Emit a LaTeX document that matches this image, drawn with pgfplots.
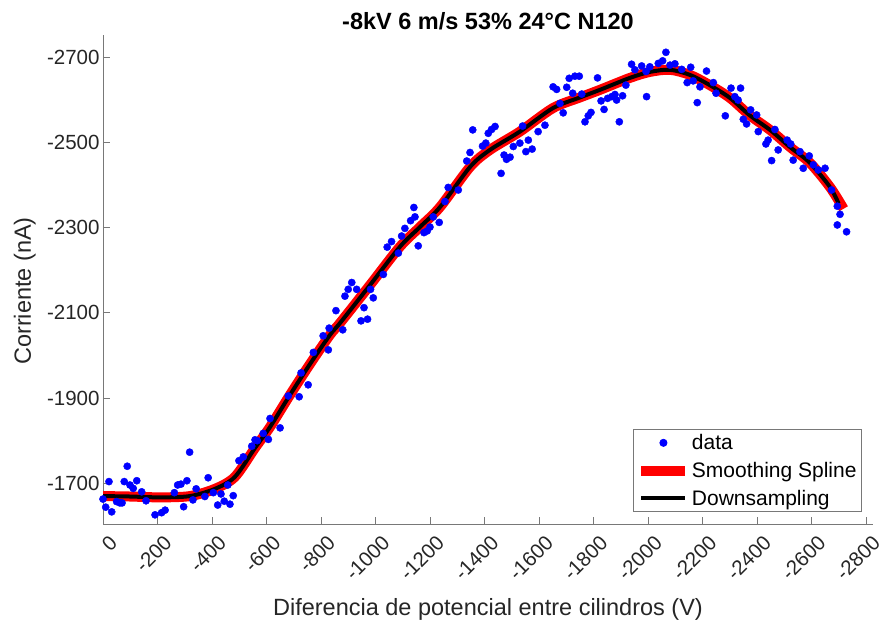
\documentclass[border=0pt]{standalone}
\usepackage{pgfplots}
\pgfplotsset{compat=1.18}
\usepackage{fontspec}
\setmainfont{Liberation Sans}
\definecolor{axtext}{RGB}{38,38,38}
\definecolor{axline}{RGB}{120,120,120}
\pgfplotsset{
  lineleg/.style={legend image code/.code={\draw[##1] (0pt,0pt) -- (44pt,0pt);}},
  markleg/.style={legend image code/.code={\draw[##1] plot coordinates {(22pt,0pt)};}},
}

\pgfplotstableread{
x y
0 -1663
-10 -1644
-22 -1704
-32 -1633
-50 -1657
-62 -1654
-70 -1654
-78 -1704
-89 -1740
-99 -1696
-111 -1688
-124 -1706
-142 -1680
-158 -1659
-191 -1626
-215 -1631
-228 -1637
-262 -1678
-274 -1696
-286 -1698
-296 -1645
-308 -1706
-318 -1773
-330 -1661
-342 -1687
-374 -1669
-386 -1713
-405 -1678
-421 -1649
-433 -1675
-445 -1658
-458 -1696
-466 -1651
-478 -1671
-499 -1753
-515 -1762
-546 -1787
-558 -1802
-566 -1800
-588 -1817
-607 -1803
-613 -1852
-650 -1830
-680 -1905
-720 -1903
-727 -1959
-753 -1931
-772 -2007
-808 -2046
-827 -2013
-830 -2064
-855 -2105
-880 -2060
-888 -2139
-900 -2155
-913 -2171
-931 -2155
-947 -2081
-958 -2112
-971 -2085
-982 -2155
-992 -2135
-1029 -2190
-1043 -2254
-1059 -2267
-1084 -2240
-1096 -2280
-1108 -2298
-1129 -2316
-1141 -2347
-1145 -2325
-1157 -2257
-1178 -2288
-1190 -2292
-1200 -2301
-1212 -2325
-1234 -2312
-1255 -2361
-1267 -2394
-1304 -2388
-1335 -2456
-1347 -2476
-1357 -2529
-1393 -2491
-1405 -2498
-1414 -2521
-1426 -2530
-1439 -2537
-1461 -2427
-1472 -2470
-1481 -2460
-1494 -2465
-1506 -2490
-1530 -2498
-1540 -2538
-1552 -2478
-1561 -2505
-1575 -2484
-1597 -2525
-1622 -2540
-1652 -2630
-1665 -2624
-1677 -2591
-1689 -2569
-1702 -2629
-1711 -2650
-1724 -2615
-1732 -2655
-1748 -2655
-1757 -2613
-1769 -2548
-1781 -2562
-1791 -2570
-1815 -2651
-1828 -2597
-1839 -2577
-1852 -2603
-1867 -2607
-1879 -2612
-1885 -2599
-1907 -2609
-1895 -2548
-1919 -2634
-1940 -2683
-1952 -2670
-1977 -2679
-1993 -2666
-1995 -2607
-2007 -2677
-2038 -2685
-2054 -2691
-2066 -2711
-2081 -2681
-2099 -2684
-2124 -2671
-2157 -2676
-2144 -2640
-2166 -2644
-2181 -2593
-2191 -2630
-2215 -2667
-2240 -2640
-2250 -2615
-2284 -2562
-2305 -2627
-2340 -2627
-2319 -2607
-2331 -2599
-2350 -2554
-2362 -2543
-2377 -2576
-2399 -2564
-2405 -2525
-2433 -2496
-2441 -2505
-2454 -2457
-2466 -2530
-2478 -2482
-2511 -2505
-2524 -2496
-2533 -2458
-2558 -2478
-2570 -2439
-2592 -2468
-2607 -2447
-2625 -2435
-2650 -2439
-2674 -2388
-2695 -2350
-2705 -2331
-2695 -2306
-2729 -2290
}\rawdata

\pgfplotstableread{
x y
0 -1670
-99 -1669
-209 -1667
-319 -1670
-411 -1687
-484 -1715
-558 -1783
-613 -1832
-686 -1907
-760 -1980
-833 -2048
-870 -2076
-980 -2165
-1090 -2255
-1163 -2301
-1237 -2348
-1347 -2442
-1420 -2482
-1530 -2525
-1651 -2580
-1750 -2605
-1824 -2623
-1934 -2651
-2007 -2665
-2081 -2670
-2154 -2658
-2227 -2634
-2301 -2604
-2374 -2563
-2450 -2528
-2521 -2489
-2594 -2452
-2668 -2395
-2718 -2344
}\splinedata

\pgfplotstableread{
x y
0 -1670
-99 -1669
-209 -1667
-319 -1670
-411 -1687
-484 -1715
-558 -1783
-613 -1832
-686 -1907
-760 -1980
-833 -2048
-870 -2076
-980 -2165
-1090 -2255
-1163 -2301
-1237 -2348
-1347 -2442
-1420 -2482
-1530 -2525
-1651 -2580
-1750 -2605
-1824 -2623
-1934 -2651
-2007 -2665
-2081 -2670
-2154 -2658
-2227 -2634
-2301 -2604
-2374 -2563
-2450 -2528
-2521 -2489
-2594 -2452
-2668 -2395
-2700 -2356
}\downdata

\begin{document}
\begin{tikzpicture}[x=1pt,y=1pt]
\useasboundingbox (-103,-100) rectangle (778,524);
\begin{axis}[
  at={(0pt,0pt)}, anchor=south west,
  scale only axis, width=770pt, height=489pt,
  x dir=reverse, y dir=reverse,
  xmin=-2826, xmax=0, ymin=-2751.6, ymax=-1604.5,
  axis x line*=bottom, axis y line*=left,
  axis line style={axline, line width=0.8pt, -},
  tick align=inside, major tick length=7pt,
  tick style={axline, line width=0.8pt},
  xtick={0,-200,...,-2800},
  ytick={-2700,-2500,...,-1700},
  scaled ticks=false,
  /pgf/number format/.cd, 1000 sep={}, assume math mode=true, /pgfplots/.cd,
  ticklabel style={font=\fontsize{20.5}{24}\selectfont, text=axtext},
  xticklabel style={xshift=13pt, yshift=-13pt, rotate=45, anchor=east},
  clip=false,
  legend style={at={(axis description cs:0.985,0.0245)}, anchor=south east,
    draw=axline, line width=0.8pt, fill=white,
    font=\fontsize{21}{24}\selectfont,
    inner xsep=3pt, inner ysep=4pt, row sep=9pt,
    nodes={inner xsep=1.5pt, inner ysep=1pt},
    cells={anchor=west}},
]
\addplot[only marks, mark=*, mark size=3.6pt, color=blue, mark options={draw=blue, fill=blue}, markleg]
  table[x=x, y=y] {\rawdata};
\addlegendentry{data}
\addplot[red, line width=10pt, smooth, line cap=butt, lineleg]
  table[x=x, y=y] {\splinedata};
\addlegendentry{Smoothing Spline}
\addplot[black, line width=4pt, smooth, lineleg]
  table[x=x, y=y] {\downdata};
\addlegendentry{Downsampling}
\end{axis}
\node[anchor=base, font=\bfseries\fontsize{23.5}{28}\selectfont, text=black] at (385,494.5) {-8kV 6 m/s 53\% 24°C N120};
\node[anchor=base, font=\fontsize{23.5}{28}\selectfont, text=axtext] at (385,-91) {Diferencia de potencial entre cilindros (V)};
\node[anchor=base, rotate=90, font=\fontsize{23.5}{28}\selectfont, text=axtext] at (-72,233) {Corriente (nA)};
\end{tikzpicture}
\end{document}
